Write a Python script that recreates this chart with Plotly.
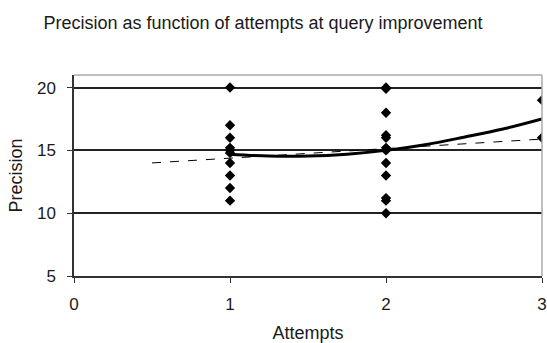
import plotly.graph_objects as go

# Data
attempts_1 = [1, 1, 1, 1, 1, 1, 1, 1, 1, 1]
precision_1 = [20, 17, 16, 15.2, 15, 14.8, 14, 13, 12, 11]
attempts_2 = [2, 2, 2, 2, 2, 2, 2, 2, 2, 2, 2, 2]
precision_2 = [20, 19.9, 18, 16.2, 16, 15.2, 15, 14, 13, 11.2, 11, 10]
attempts_3 = [3, 3]
precision_3 = [19, 16]

poly_x = [1, 1.25, 1.5, 1.75, 2, 2.25, 2.5, 2.75, 3]
poly_y = [14.7, 14.55, 14.55, 14.7, 15.0, 15.45, 16.05, 16.7, 17.5]

lin_x = [0.5, 3]
lin_y = [14.0, 15.9]

x_ticks = [0, 1, 2, 3]
y_ticks = [5, 10, 15, 20]

xs = attempts_1 + attempts_2 + attempts_3
ys = precision_1 + precision_2 + precision_3

FONT = "Liberation Sans, Arial, sans-serif"
TXT = "#1a1a1a"

fig = go.Figure()
fig.add_trace(go.Scatter(x=lin_x, y=lin_y, mode="lines",
                         line=dict(color="black", width=1, dash="dash"),
                         showlegend=False, hoverinfo="skip"))
fig.add_trace(go.Scatter(x=poly_x, y=poly_y, mode="lines",
                         line=dict(color="black", width=3, shape="spline"),
                         showlegend=False, hoverinfo="skip"))
fig.add_trace(go.Scatter(x=xs, y=ys, mode="markers",
                         marker=dict(symbol="diamond", size=8, color="black"),
                         showlegend=False))

fig.update_layout(
    width=547, height=343,
    margin=dict(l=74, r=5, t=75, b=67),
    paper_bgcolor="white", plot_bgcolor="white",
    font=dict(family=FONT, size=16, color=TXT),
    title=dict(text="Precision as function of attempts at query improvement",
               x=263 / 547, xanchor="center", y=1 - 23 / 343, yanchor="middle",
               font=dict(family=FONT, size=18, color=TXT)),
    xaxis=dict(range=[0, 3], tickvals=x_ticks, ticks="outside", ticklen=5,
               tickcolor="#333", showgrid=False, zeroline=False,
               showline=True, linecolor="#333", linewidth=1.5,
               ticklabelstandoff=7, automargin=False,
               title=dict(text="Attempts", standoff=28,
                          font=dict(family=FONT, size=18, color=TXT)),
               tickfont=dict(family=FONT, size=17, color=TXT)),
    yaxis=dict(range=[5, 21], tickvals=y_ticks, ticks="outside", ticklen=5,
               tickcolor="#333", showgrid=True, gridcolor="#222", gridwidth=1.5,
               zeroline=False, showline=True, linecolor="#333", linewidth=1.5,
               ticklabelstandoff=8, automargin=False,
               title=dict(text="Precision", standoff=10,
                          font=dict(family=FONT, size=18, color=TXT)),
               tickfont=dict(family=FONT, size=17, color=TXT)),
    shapes=[
        dict(type="line", xref="paper", yref="paper", x0=0, x1=1, y0=1, y1=1,
             line=dict(color="#aaaaaa", width=1.5)),
        dict(type="line", xref="paper", yref="paper", x0=1, x1=1, y0=0, y1=1,
             line=dict(color="#aaaaaa", width=1.5)),
    ],
)

fig.write_html("out.html")
